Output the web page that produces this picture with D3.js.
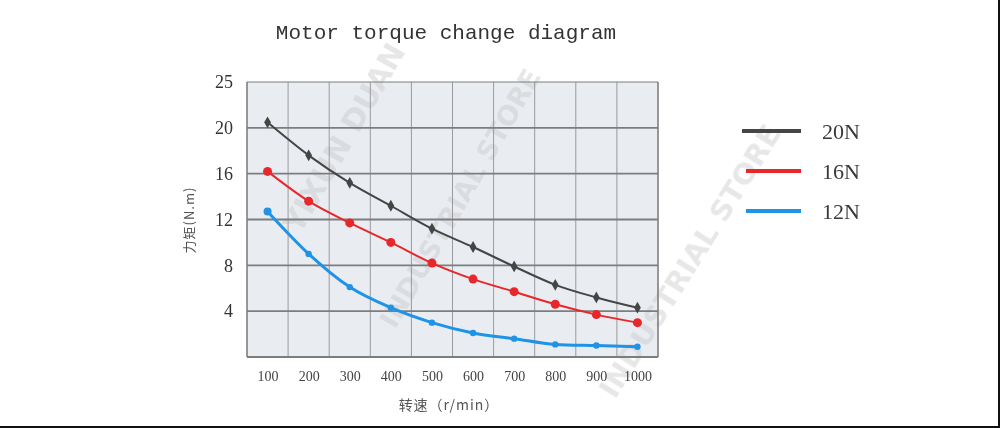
<!DOCTYPE html>
<html>
<head>
<meta charset="utf-8">
<script src="https://cdn.jsdelivr.net/npm/d3@7"></script>
<style>
  html, body { margin: 0; padding: 0; background: #fff; }
  svg { display: block; }
</style>
</head>
<body>
<div id="chart"></div>
<script>
(function() {

    var w = 1000;
    var h = 428;

    // data
    var speeds = [100, 200, 300, 400, 500, 600, 700, 800, 900, 1000];
    var torque20N = [20.6, 17.6, 15.2, 13.2, 11.2, 9.6, 7.9, 6.3, 5.2, 4.3];
    var torque16N = [16.2, 13.6, 11.7, 10.0, 8.2, 6.8, 5.7, 4.6, 3.7, 3.0];
    var torque12N = [12.7, 9.0, 6.1, 4.3, 3.0, 2.1, 1.6, 1.1, 1.0, 0.9];
    var seriesNames = ["20N", "16N", "12N"];
    var yTicks = [0, 4, 8, 12, 16, 20, 25];
    var yTickLabels = ["", "4", "8", "12", "16", "20", "25"];

    var plot = { left: 247, right: 658, top: 82, bottom: 357 };

    var colors = ["#454545", "#e8272b", "#1f93e6"];

    var svg = d3.select("#chart")
        .append("svg")
        .attr("width", w)
        .attr("height", h);

    // frame of the photo
    svg.append("rect")
        .attr("x", 0).attr("y", 0)
        .attr("width", w).attr("height", h)
        .attr("fill", "#fff");
    svg.append("line").attr("x1", 0).attr("x2", w).attr("y1", h - 1).attr("y2", h - 1)
        .attr("stroke", "#111").attr("stroke-width", 2);
    svg.append("line").attr("x1", w - 1).attr("x2", w - 1).attr("y1", 0).attr("y2", h)
        .attr("stroke", "#111").attr("stroke-width", 2);

    var x = d3.scaleLinear()
        .domain([50, 1050])
        .range([plot.left, plot.right]);

    // grid rows are evenly spaced even though the steps are not (4,4,4,4,4,5)
    var y = d3.scaleLinear()
        .domain(yTicks)
        .range(yTicks.map(function(d, i) {
            return plot.bottom - i * (plot.bottom - plot.top) / (yTicks.length - 1);
        }));

    // plot background
    svg.append("rect")
        .attr("x", plot.left)
        .attr("y", plot.top)
        .attr("width", plot.right - plot.left)
        .attr("height", plot.bottom - plot.top)
        .attr("fill", "#e9edf2");

    // watermark
    var wm = svg.append("g")
        .attr("font-family", "DejaVu Sans, sans-serif")
        .attr("font-weight", "bold")
        .attr("fill", "#c4c4c4")
        .attr("opacity", 0.4);
    wm.append("text")
        .attr("transform", "translate(300,235) rotate(-60)")
        .attr("font-size", 30)
        .text("YIXUN DUAN");
    wm.append("text")
        .attr("transform", "translate(395,330) rotate(-60)")
        .attr("font-size", 27)
        .text("INDUSTRIAL STORE");
    wm.append("text")
        .attr("transform", "translate(615,400) rotate(-58)")
        .attr("font-size", 29)
        .text("INDUSTRIAL STORE");

    // vertical grid lines
    var xGrid = d3.range(50, 1051, 100);
    svg.append("g")
        .selectAll("line")
        .data(xGrid)
        .enter()
        .append("line")
        .attr("x1", function(d) { return x(d); })
        .attr("x2", function(d) { return x(d); })
        .attr("y1", plot.top)
        .attr("y2", plot.bottom)
        .attr("stroke", function(d, i) { return (i === 0 || i === xGrid.length - 1) ? "#777" : "#9a9a9a"; })
        .attr("stroke-width", function(d, i) { return (i === 0 || i === xGrid.length - 1) ? 1.5 : 1; });

    // horizontal grid lines
    svg.append("g")
        .selectAll("line")
        .data(yTicks)
        .enter()
        .append("line")
        .attr("x1", plot.left)
        .attr("x2", plot.right)
        .attr("y1", function(d) { return y(d); })
        .attr("y2", function(d) { return y(d); })
        .attr("stroke", "#7d7d7d")
        .attr("stroke-width", function(d) { return d === 25 ? 1 : 1.8; });

    // y axis labels
    var yAxis = d3.axisLeft(y)
        .tickValues(yTicks)
        .tickSize(0)
        .tickPadding(14)
        .tickFormat(function(d, i) { return yTickLabels[i]; });
    var gy = svg.append("g")
        .attr("transform", "translate(" + plot.left + ",0)")
        .call(yAxis);
    gy.select(".domain").remove();
    gy.selectAll("text")
        .attr("font-family", "Liberation Serif, serif")
        .attr("font-size", 18)
        .attr("fill", "#333");

    // x axis labels
    var xAxis = d3.axisBottom(x)
        .tickValues(speeds)
        .tickSize(0)
        .tickPadding(14)
        .tickFormat(d3.format("d"));
    var gx = svg.append("g")
        .attr("transform", "translate(0," + plot.bottom + ")")
        .call(xAxis);
    gx.select(".domain").remove();
    gx.selectAll("text")
        .attr("font-family", "Liberation Serif, serif")
        .attr("font-size", 14)
        .attr("fill", "#444");

    // axis titles
    svg.append("text")
        .attr("transform", "translate(194,220) rotate(-90)")
        .attr("text-anchor", "middle")
        .attr("font-family", "Noto Sans CJK SC, sans-serif")
        .attr("font-size", 13)
        .attr("letter-spacing", 1)
        .attr("fill", "#555")
        .text("力矩(N.m)");

    svg.append("text")
        .attr("x", 449)
        .attr("y", 410)
        .attr("text-anchor", "middle")
        .attr("font-family", "Noto Sans CJK SC, sans-serif")
        .attr("font-size", 14)
        .attr("letter-spacing", 1)
        .attr("fill", "#555")
        .text("转速（r/min）");

    // title
    svg.append("text")
        .attr("x", 446)
        .attr("y", 39)
        .attr("text-anchor", "middle")
        .attr("font-family", "Liberation Mono, monospace")
        .attr("font-size", 21)
        .attr("fill", "#333")
        .text("Motor torque change diagram");

    // lines
    var series = [torque20N, torque16N, torque12N];
    var line = d3.line()
        .x(function(d, i) { return x(speeds[i]); })
        .y(function(d) { return y(d); })
        .curve(d3.curveMonotoneX);

    var widths = [2, 2, 3];
    series.forEach(function(vals, s) {
        svg.append("path")
            .datum(vals)
            .attr("d", line)
            .attr("fill", "none")
            .attr("stroke", colors[s])
            .attr("stroke-width", widths[s]);
    });

    // markers
    svg.append("g")
        .selectAll("path")
        .data(torque20N)
        .enter()
        .append("path")
        .attr("d", d3.symbol().type(d3.symbolDiamond).size(40))
        .attr("transform", function(d, i) { return "translate(" + x(speeds[i]) + "," + y(d) + ")"; })
        .attr("fill", colors[0]);

    svg.append("g")
        .selectAll("circle")
        .data(torque16N)
        .enter()
        .append("circle")
        .attr("cx", function(d, i) { return x(speeds[i]); })
        .attr("cy", function(d) { return y(d); })
        .attr("r", 4.5)
        .attr("fill", colors[1]);

    svg.append("g")
        .selectAll("circle")
        .data(torque12N)
        .enter()
        .append("circle")
        .attr("cx", function(d, i) { return x(speeds[i]); })
        .attr("cy", function(d) { return y(d); })
        .attr("r", function(d, i) { return i === 0 ? 4 : 3.2; })
        .attr("fill", colors[2]);

    // legend
    var legend = svg.append("g")
        .selectAll("g")
        .data(seriesNames)
        .enter()
        .append("g")
        .attr("transform", function(d, i) { return "translate(0," + (131 + i * 40) + ")"; });
    legend.append("line")
        .attr("x1", function(d, i) { return i === 0 ? 742 : 746; })
        .attr("x2", 801)
        .attr("y1", 0)
        .attr("y2", 0)
        .attr("stroke", function(d, i) { return colors[i]; })
        .attr("stroke-width", 4);
    legend.append("text")
        .attr("x", 822)
        .attr("y", 8)
        .attr("font-family", "Liberation Serif, serif")
        .attr("font-size", 22)
        .attr("fill", "#3a3a3a")
        .text(function(d) { return d; });

})();
</script>
</body>
</html>
